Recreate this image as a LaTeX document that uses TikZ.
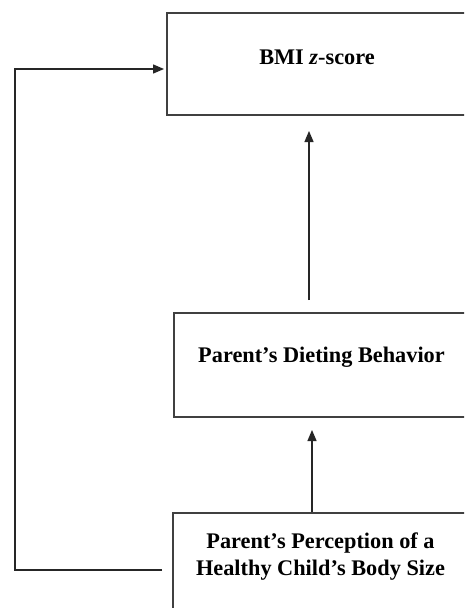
\documentclass[tikz,border=0pt]{standalone}
\usepackage{fontspec}
\setmainfont{Liberation Serif}
\usetikzlibrary{arrows.meta,calc}
\begin{document}
\begin{tikzpicture}[x=1pt,y=-1pt,
  box/.style={draw=black!75,line width=1.7pt,rectangle,inner sep=0pt,anchor=north west},
  lbl/.style={font=\fontsize{22.3}{27}\selectfont\bfseries,align=center,text=black},
  arr/.style={draw=black!85,line width=1.3pt,-{Triangle[length=11pt,width=9pt]}},
  conn/.style={draw=black!85,line width=1.3pt}]
\useasboundingbox (0,0) rectangle (464,608);
\clip (0,0) rectangle (464,608);
\fill[white] (0,0) rectangle (464,608);
% boxes (cut off at the right and bottom edges)
\node[box,minimum width=320pt,minimum height=102pt] (top) at (166,12) {};
\node[box,minimum width=320pt,minimum height=104pt] (mid) at (173,312) {};
\node[box,minimum width=320pt,minimum height=120pt] (bot) at (172,512) {};
% labels
\node[lbl] (toplbl) at (317,57) {BMI \textit{z}-score};
\node[lbl] (midlbl) at (321.5,357) {Parent’s Dieting Behavior};
\node[lbl] (botlbl) at (320.5,557) {Parent’s Perception of a\\Healthy Child’s Body Size};
% connectors
\coordinate (a1s) at (309,300);
\coordinate (a1e) at (309,131);
\draw[arr] (a1s) -- (a1e);
\coordinate (a2e) at (312,430);
\draw[arr] (bot.north -| a2e) -- (a2e);
\coordinate (lps) at (162,570);
\coordinate (lpc) at (15,570);
\coordinate (lpe) at (164,69);
\draw[arr] (lps) -- (lpc) |- (lpe);
\end{tikzpicture}
\end{document}
